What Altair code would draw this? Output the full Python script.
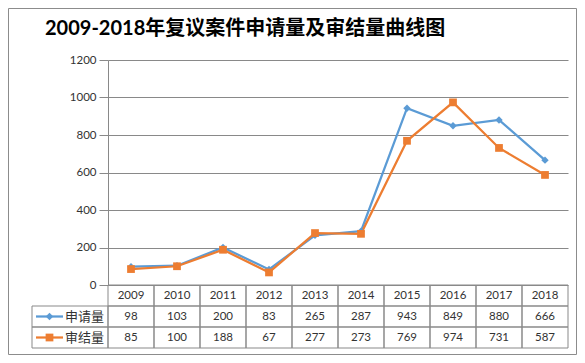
import altair as alt
import pandas as pd

title_text = "2009-2018年复议案件申请量及审结量曲线图"
years = ["2009", "2010", "2011", "2012", "2013", "2014", "2015", "2016", "2017", "2018"]
series_names = ["申请量", "审结量"]
applied = [98, 103, 200, 83, 265, 287, 943, 849, 880, 666]
closed = [85, 100, 188, 67, 277, 273, 769, 974, 731, 587]
y_ticks = [0, 200, 400, 600, 800, 1000, 1200]
row_keys = ["year"] + series_names

colors = ["#5B9BD5", "#ED7D31"]
shapes = ["diamond", "square"]
grid = "#898989"
lat = "Lato"
cjk = "Noto Sans CJK SC"

# long data for lines
recs = []
for name, vals in zip(series_names, [applied, closed]):
    for y, v in zip(years, vals):
        recs.append({"year": y, "series": name, "value": v})
df = pd.DataFrame(recs)

# table data
trecs = [{"year": y, "row": "year", "label": y} for y in years]
for name, vals in zip(series_names, [applied, closed]):
    for y, v in zip(years, vals):
        trecs.append({"year": y, "row": name, "label": str(v)})
tdf = pd.DataFrame(trecs)
ldf = pd.DataFrame({"row": series_names, "series": series_names})

xscale = alt.Scale(type="band", domain=years, paddingInner=0, paddingOuter=0)
xc = alt.X("year:O", scale=xscale, bandPosition=0.5, axis=None)
col = alt.Color("series:N", scale=alt.Scale(domain=series_names, range=colors), legend=None)
shp = alt.Shape("series:N", scale=alt.Scale(domain=series_names, range=shapes), legend=None)
siz = alt.Size("series:N", scale=alt.Scale(domain=series_names, range=[55, 60]), legend=None)

yline = alt.Y("value:Q", scale=alt.Scale(domain=[0, 1200], range=[225, 0], nice=False),
              axis=alt.Axis(values=y_ticks, format="d", title=None, grid=True, gridColor=grid,
                            domainColor=grid, tickColor=grid, tickSize=9, labelPadding=3,
                            labelFont=lat, labelFontSize=11.5, labelColor="#333333"))

base = alt.Chart(df)
lines = base.mark_line(strokeWidth=2.25).encode(x=xc, y=yline, color=col, detail="series:N")
pts = base.mark_point(filled=True, opacity=1).encode(x=xc, y="value:Q", color=col, shape=shp, size=siz)
line_layer = alt.layer(lines, pts)

rscale = alt.Scale(type="band", domain=row_keys, range=[225, 288], paddingInner=0, paddingOuter=0)
yrow = alt.Y("row:N", scale=rscale, axis=None)
yrowc = alt.Y("row:N", scale=rscale, axis=None, bandPosition=0.5)

cells = alt.Chart(tdf).mark_rect(fill="white", fillOpacity=0, stroke=grid, strokeWidth=1).encode(
    x=alt.X("year:O", scale=xscale, axis=None), y=yrow)
ctext = alt.Chart(tdf).mark_text(font=lat, fontSize=11.5, color="#333333", baseline="middle").encode(
    x=xc, y=yrowc, text="label:N")
lcells = alt.Chart(ldf).mark_rect(fill="white", fillOpacity=0, stroke=grid, strokeWidth=1).encode(
    x=alt.value(-76), x2=alt.value(0), y=yrow)
lrule = alt.Chart(ldf).mark_rule(strokeWidth=2.25).encode(
    x=alt.value(-72), x2=alt.value(-45), y=yrowc, color=col)
lpt = alt.Chart(ldf).mark_point(filled=True, opacity=1).encode(
    x=alt.value(-58.5), y=yrowc, color=col, shape=shp, size=siz)
ltext = alt.Chart(ldf).mark_text(font=cjk, fontSize=13, color="#333333", align="left", baseline="middle").encode(
    x=alt.value(-43), y=yrowc, text="row:N")
table_layer = alt.layer(cells, ctext, lcells, lrule, lpt, ltext)

one = pd.DataFrame({"t": [title_text]})
border = alt.Chart(one).mark_rect(fill="white", fillOpacity=0, stroke="#8c8c8c", strokeWidth=1).encode(
    x=alt.value(-99.5), x2=alt.value(468.5), y=alt.value(-51.5), y2=alt.value(294.5))
title = alt.Chart(one).mark_text(font="Lato, 'Noto Sans CJK SC'", fontSize=20, fontWeight="bold",
                                 color="#000000", align="left", baseline="alphabetic").encode(
    x=alt.value(-63), y=alt.value(-25), text="t:N")

chart = alt.layer(border, line_layer, table_layer, title).resolve_scale(y="independent").properties(
    width=460, height=288,
    padding={"left": 100, "top": 52, "right": 9, "bottom": 7},
    autosize=alt.AutoSizeParams(type="none"),
    background="white",
).configure_view(stroke=None)

chart.save("out.html", embed_options={"renderer": "svg", "actions": False})
